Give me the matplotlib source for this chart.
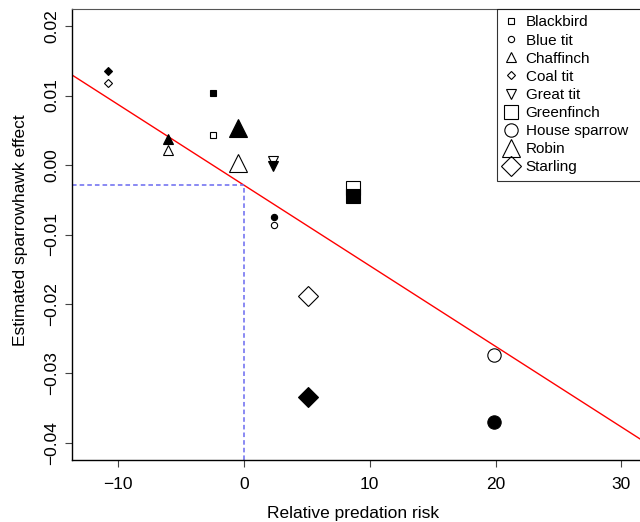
import matplotlib
matplotlib.use("Agg")
import matplotlib.pyplot as plt
from matplotlib.lines import Line2D

plt.rcParams["font.family"] = ["Liberation Sans", "DejaVu Sans"]

species = ["Blackbird", "Blue tit", "Chaffinch", "Coal tit", "Great tit",
           "Greenfinch", "House sparrow", "Robin", "Starling"]
risk = [-2.5, 2.4, -6.0, -10.8, 2.3, 8.7, 19.9, -0.5, 5.1]
effect_open = [0.0043, -0.0086, 0.0022, 0.0118, 0.0006,
               -0.0033, -0.0273, 0.0003, -0.0188]
effect_filled = [0.0104, -0.0075, 0.0037, 0.0135, -0.0001,
                 -0.0045, -0.0370, 0.0053, -0.0334]

fit_intercept = -0.0029
fit_slope = -0.00116

xticks = [-10, 0, 10, 20, 30]
yticks = [0.02, 0.01, 0.0, -0.01, -0.02, -0.03, -0.04]
ytick_labels = ["0.02", "0.01", "0.00", "\u22120.01", "\u22120.02", "\u22120.03", "\u22120.04"]
xlim = (-13.67, 31.48)
ylim = (-0.04245, 0.02245)

# marker shape and size (pt) per species, R-style pch
markers = ["s", "o", "^", "D", "v", "s", "o", "^", "D"]
sizes = [5, 4.5, 7, 4.2, 7.5, 10, 9.6, 13, 10.2]

fig = plt.figure(figsize=(6.4, 5.22), dpi=100)
ax = fig.add_axes([72 / 640, 62 / 522, 1 - 72 / 640, 451 / 522])
ax.set_xlim(*xlim)
ax.set_ylim(*ylim)

ax.axline((0, fit_intercept), slope=fit_slope, color="red", lw=1, zorder=2)
ax.hlines(fit_intercept, xlim[0], 0, colors="#6a6af0", lw=1.1,
          linestyles=(0, (3, 2)), zorder=2)
ax.vlines(0, ylim[0], fit_intercept, colors="#6a6af0", lw=1.1,
          linestyles=(0, (3, 2)), zorder=2)

for x, yo, yf, m, s in zip(risk, effect_open, effect_filled, markers, sizes):
    ax.plot(x, yo, marker=m, ms=s, mfc="none", mec="black", mew=0.8,
            ls="none", zorder=3)
    ax.plot(x, yf, marker=m, ms=s, mfc="black", mec="black", mew=0.8,
            ls="none", zorder=4)

ax.set_xticks(xticks)
ax.set_yticks(yticks)
ax.set_yticklabels(ytick_labels, rotation=90, va="center")
ax.tick_params(axis="both", labelsize=12.5, length=5, width=0.8,
               direction="out", color="#444444")
ax.tick_params(axis="x", pad=7)
ax.tick_params(axis="y", pad=4)

ax.spines["right"].set_visible(False)
ax.spines["top"].set_color("#555555")
ax.spines["top"].set_linewidth(0.8)
ax.spines["left"].set_linewidth(1.0)
ax.spines["bottom"].set_linewidth(1.0)

ax.set_xlabel("Relative predation risk", fontsize=12.5)
ax.set_ylabel("Estimated sparrowhawk effect", fontsize=12.5)
ax.xaxis.set_label_coords(0.495, -0.103)
ax.yaxis.set_label_coords(-0.078, 0.51)

handles = [Line2D([], [], marker=m, ms=s, mfc="none", mec="black", mew=0.8,
                  ls="none") for m, s in zip(markers, sizes)]
leg = fig.legend(handles, species, loc="upper left",
                 bbox_to_anchor=(497 / 640, 0.4, 0.3, 1 - 9 / 522 - 0.4),
                 mode="expand", fontsize=11, frameon=True, fancybox=False,
                 borderaxespad=0, borderpad=0.42, labelspacing=0.27,
                 handlelength=1.0, handletextpad=0.45)
leg.get_frame().set_edgecolor("black")
leg.get_frame().set_linewidth(0.8)

fig.savefig("out.png", dpi=100)
